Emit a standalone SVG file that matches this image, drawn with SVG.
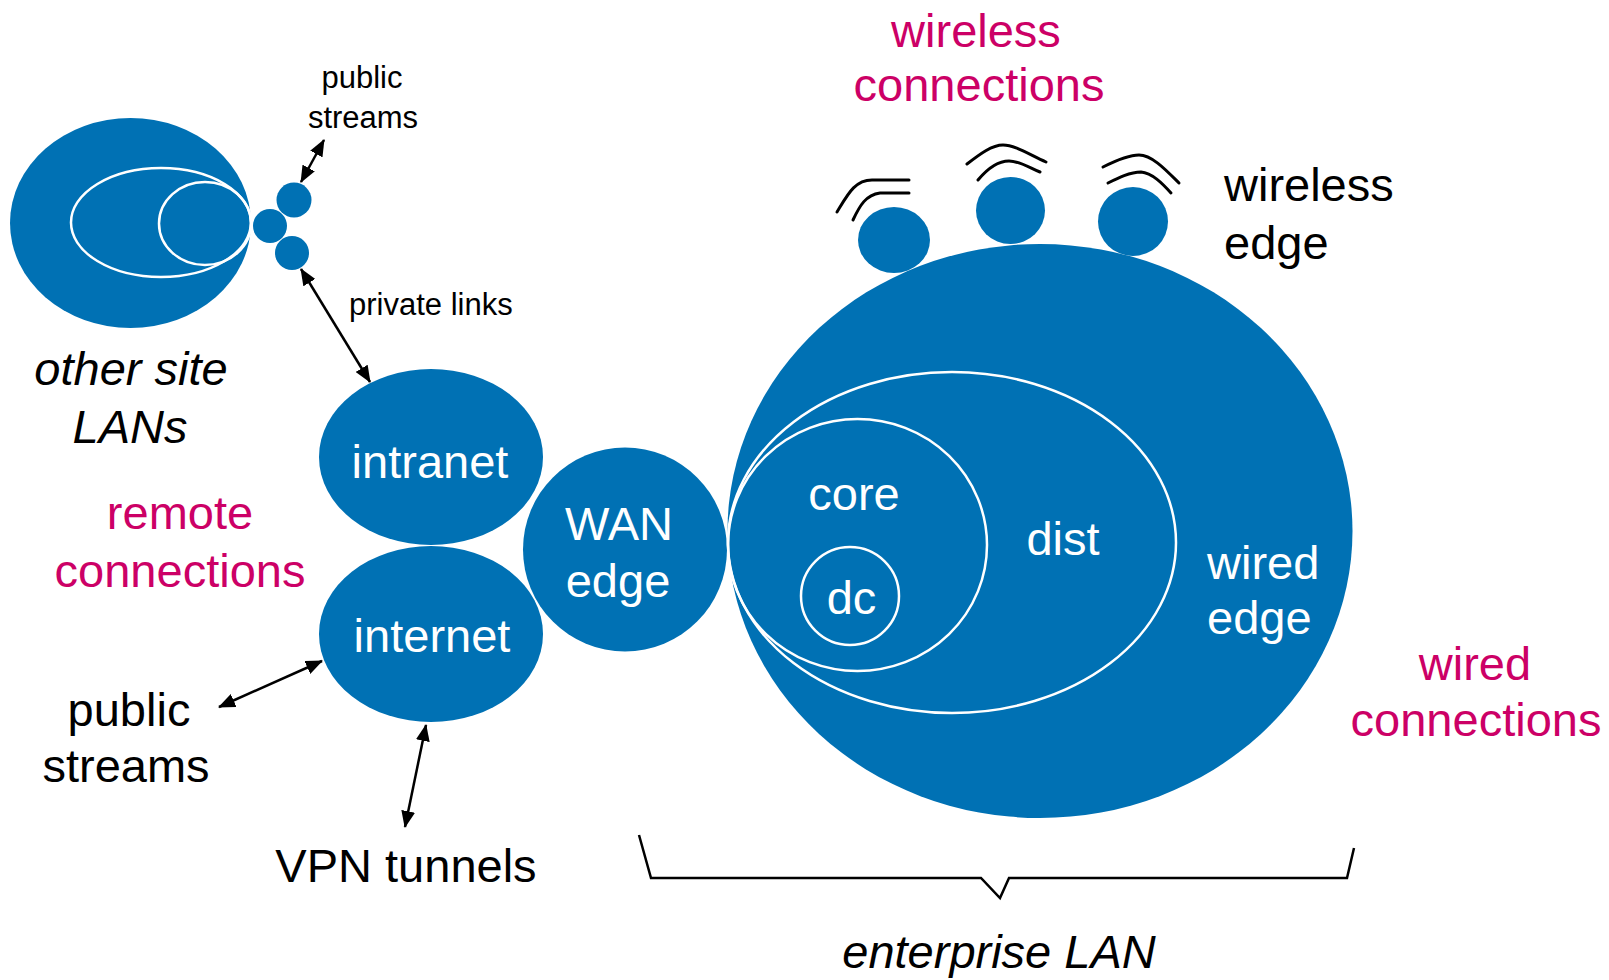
<svg xmlns="http://www.w3.org/2000/svg" width="1609" height="980" viewBox="0 0 1609 980">
  <style>
    .blob { fill: #0071B4; }
    .ring { fill: none; stroke: #ffffff; stroke-width: 2.5; }
    .t { font-family: "Liberation Sans", Arial, sans-serif; }
    .big { font-size: 47px; }
    .small { font-size: 31px; }
    .white { fill: #ffffff; }
    .black { fill: #000000; }
    .accent { fill: #CC0066; }
    .ital { font-style: italic; }
    .link { stroke: #000000; stroke-width: 2.5; fill: none; }
    .wave { stroke: #000000; stroke-width: 3; fill: none; stroke-linecap: round; }
  </style>
  <defs>
    <marker id="head" markerUnits="userSpaceOnUse" markerWidth="17" markerHeight="14" viewBox="0 0 17 14" refX="16" refY="7" orient="auto-start-reverse">
      <path d="M0,0 L17,7 L0,14 z" fill="#000000"/>
    </marker>
  </defs>
  <rect width="1609" height="980" fill="#ffffff"/>

  <!-- remote site LANs -->
  <g id="other-site-lans">
    <ellipse class="blob" cx="130.5" cy="223" rx="120.5" ry="105"/>
    <ellipse class="ring" cx="161" cy="222.5" rx="90" ry="54.5"/>
    <ellipse class="ring" cx="205" cy="223.5" rx="46" ry="41.5"/>
    <text class="t big black ital" x="131" y="385" text-anchor="middle">other site</text>
    <text class="t big black ital" x="130" y="443" text-anchor="middle">LANs</text>
  </g>
  <g id="site-edge">
    <circle class="blob" cx="294" cy="200" r="17.5"/>
    <circle class="blob" cx="270" cy="226" r="17"/>
    <circle class="blob" cx="292" cy="253" r="17"/>
  </g>

  <!-- WAN side -->
  <g id="intranet">
    <ellipse class="blob" cx="431" cy="457" rx="112" ry="88"/>
    <text class="t big white" x="430" y="478" text-anchor="middle">intranet</text>
  </g>
  <g id="internet">
    <ellipse class="blob" cx="431" cy="634" rx="112" ry="88"/>
    <text class="t big white" x="432" y="652" text-anchor="middle">internet</text>
  </g>
  <g id="wan-edge">
    <circle class="blob" cx="625" cy="549.5" r="102"/>
    <text class="t big white" x="619" y="540" text-anchor="middle">WAN</text>
    <text class="t big white" x="618" y="597" text-anchor="middle">edge</text>
  </g>

  <!-- enterprise LAN -->
  <g id="wireless-edge">
    <ellipse class="blob" cx="894" cy="240" rx="36" ry="33"/>
    <ellipse class="blob" cx="1010.5" cy="210.5" rx="34.5" ry="33.5"/>
    <ellipse class="blob" cx="1133" cy="221.5" rx="35" ry="34.5"/>
    <path class="wave" d="M837,212 C848,194 855,180 872,180 L909,180"/>
    <path class="wave" d="M853,220 C860,205 866,195 880,193 L909,193"/>
    <path class="wave" d="M967,164 C980,154 992,145 1003,145 C1015,145 1030,155 1046,162"/>
    <path class="wave" d="M978,180 C988,168 998,161 1009,161 C1020,161 1030,168 1040,172"/>
    <path class="wave" d="M1103,167 C1115,161 1128,155 1139,155 C1152,155 1166,170 1179,183"/>
    <path class="wave" d="M1108,183 C1118,178 1130,172 1141,172 C1152,173 1162,183 1171,193"/>
  </g>
  <g id="wired-edge">
    <ellipse class="blob" cx="1040" cy="531" rx="312.5" ry="287"/>
    <text class="t big white" x="1207" y="579">wired</text>
    <text class="t big white" x="1207" y="634">edge</text>
  </g>
  <g id="dist">
    <ellipse class="ring" cx="952" cy="542.5" rx="224" ry="170.5"/>
    <text class="t big white" x="1063" y="555" text-anchor="middle">dist</text>
  </g>
  <g id="core">
    <ellipse class="ring" cx="857.5" cy="545" rx="129.5" ry="126"/>
    <text class="t big white" x="854" y="510" text-anchor="middle">core</text>
  </g>
  <g id="dc">
    <circle class="ring" cx="850" cy="596" r="49"/>
    <text class="t big white" x="851.5" y="614" text-anchor="middle">dc</text>
  </g>

  <!-- links between areas -->
  <g id="connectors">
    <line class="link" x1="301" y1="182" x2="324" y2="140" marker-start="url(#head)" marker-end="url(#head)"/>
    <line class="link" x1="301" y1="269" x2="370" y2="382" marker-start="url(#head)" marker-end="url(#head)"/>
    <line class="link" x1="219" y1="707" x2="322" y2="661" marker-start="url(#head)" marker-end="url(#head)"/>
    <line class="link" x1="426" y1="725" x2="405" y2="827" marker-start="url(#head)" marker-end="url(#head)"/>
    <polyline class="link" points="639,835 651,878 981,878 1000,898 1009,878 1347,878 1354,848"/>
  </g>

  <!-- labels -->
  <g id="labels">
    <text class="t small black" x="362" y="88" text-anchor="middle">public</text>
    <text class="t small black" x="363" y="128" text-anchor="middle">streams</text>
    <text class="t small black" x="349" y="315">private links</text>
    <text class="t big accent" x="976" y="47" text-anchor="middle">wireless</text>
    <text class="t big accent" x="979" y="101" text-anchor="middle">connections</text>
    <text class="t big black" x="1224" y="201">wireless</text>
    <text class="t big black" x="1224" y="259">edge</text>
    <text class="t big accent" x="180" y="529" text-anchor="middle">remote</text>
    <text class="t big accent" x="180" y="587" text-anchor="middle">connections</text>
    <text class="t big black" x="129" y="726" text-anchor="middle">public</text>
    <text class="t big black" x="126" y="782" text-anchor="middle">streams</text>
    <text class="t big black" x="406" y="882" text-anchor="middle">VPN tunnels</text>
    <text class="t big accent" x="1475" y="680" text-anchor="middle">wired</text>
    <text class="t big accent" x="1476" y="736" text-anchor="middle">connections</text>
    <text class="t big black ital" x="999" y="968" text-anchor="middle">enterprise LAN</text>
  </g>
</svg>
